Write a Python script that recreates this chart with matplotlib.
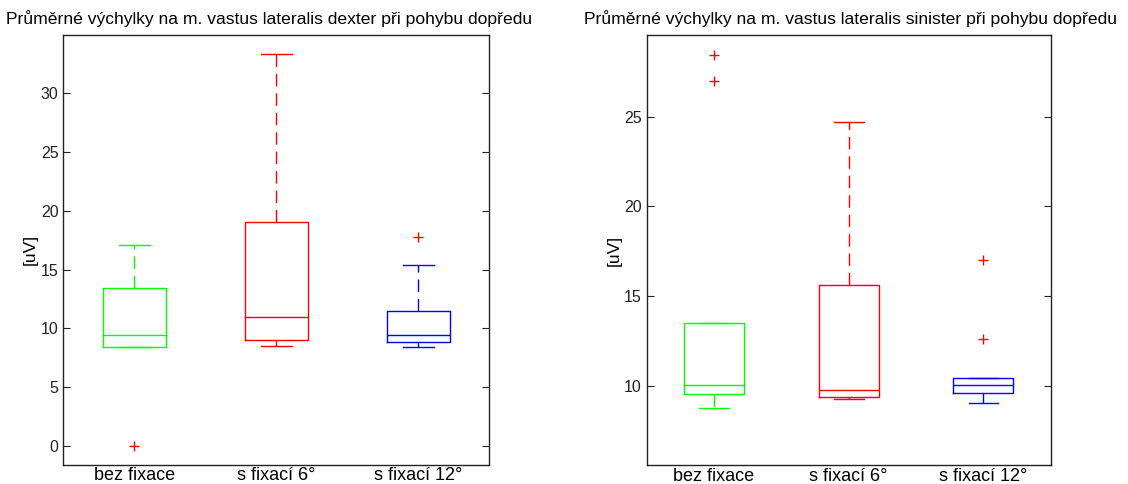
import matplotlib
matplotlib.use("Agg")
import matplotlib.pyplot as plt

plt.rcParams['font.family'] = ['Liberation Sans', 'DejaVu Sans']

categories = ["bez fixace", "s fixací 6°", "s fixací 12°"]
colors = ["#00ff00", "#ff0000", "#0000ff"]

titles = ["Průměrné výchylky na m. vastus lateralis dexter při pohybu dopředu",
          "Průměrné výchylky na m. vastus lateralis sinister při pohybu dopředu"]
ylabel = "[uV]"

# dexter
dex_whislo = [8.44, 8.52, 8.44]
dex_q1 = [8.44, 9.00, 8.83]
dex_med = [9.46, 10.98, 9.46]
dex_q3 = [13.45, 19.06, 11.52]
dex_whishi = [17.10, 33.30, 15.42]
dex_fliers = [[0.0], [], [17.78]]
dex_yticks = [0, 5, 10, 15, 20, 25, 30]
dex_ylim = (-1.57, 34.93)

# sinister
sin_whislo = [8.76, 9.24, 9.05]
sin_q1 = [9.54, 9.39, 9.58]
sin_med = [10.06, 9.74, 10.06]
sin_q3 = [13.48, 15.62, 10.45]
sin_whishi = [13.48, 24.71, 10.45]
sin_fliers = [[28.44, 26.99], [], [12.59, 17.0]]
sin_yticks = [10, 15, 20, 25]
sin_ylim = (5.58, 29.54)

fig = plt.figure(figsize=(11.28, 4.84), dpi=100)
W, H = 1128, 484
ax1 = fig.add_axes([63.3 / W, (H - 464.5) / H, (489.3 - 63.3) / W, (464.5 - 35.3) / H])
ax2 = fig.add_axes([646.7 / W, (H - 465.0) / H, (1050.7 - 646.7) / W, (465.0 - 35.3) / H])


def draw(ax, whislo, q1, med, q3, whishi, fliers, yticks, ylim, title, title_x):
    for i in range(len(categories)):
        st = [dict(whislo=whislo[i], q1=q1[i], med=med[i], q3=q3[i],
                   whishi=whishi[i], fliers=fliers[i], label=categories[i])]
        c = colors[i]
        ax.bxp(st, positions=[i + 1], widths=0.445, showfliers=True,
               boxprops=dict(color=c, linewidth=1.0),
               medianprops=dict(color=c, linewidth=1.0),
               whiskerprops=dict(color=c, linewidth=1.0, linestyle=(0, (9, 5))),
               capprops=dict(color=c, linewidth=1.0),
               capwidths=0.22,
               flierprops=dict(marker='+', markeredgecolor='#ff0000',
                               markersize=7, markeredgewidth=1.0, linestyle='none'))
    ax.set_xlim(0.5, 3.5)
    ax.set_ylim(*ylim)
    ax.set_yticks(yticks)
    ax.set_xticks([1, 2, 3])
    ax.set_xticklabels(categories, fontsize=13)
    ax.tick_params(axis='x', length=0, pad=2)
    ax.tick_params(axis='y', direction='in', left=True, right=True,
                   length=5, width=0.8, labelsize=11.5, colors='#222222')
    ax.tick_params(axis='x', colors='#000000')
    for s in ax.spines.values():
        s.set_linewidth(1.0)
        s.set_color('#222222')
    ax.set_title(title, fontsize=12.6, pad=8, x=title_x)
    ax.set_ylabel(ylabel, fontsize=12.5, labelpad=2)


draw(ax1, dex_whislo, dex_q1, dex_med, dex_q3, dex_whishi, dex_fliers,
     dex_yticks, dex_ylim, titles[0], 0.483)
draw(ax2, sin_whislo, sin_q1, sin_med, sin_q3, sin_whishi, sin_fliers,
     sin_yticks, sin_ylim, titles[1], 0.505)

fig.savefig("out.png", dpi=100)
